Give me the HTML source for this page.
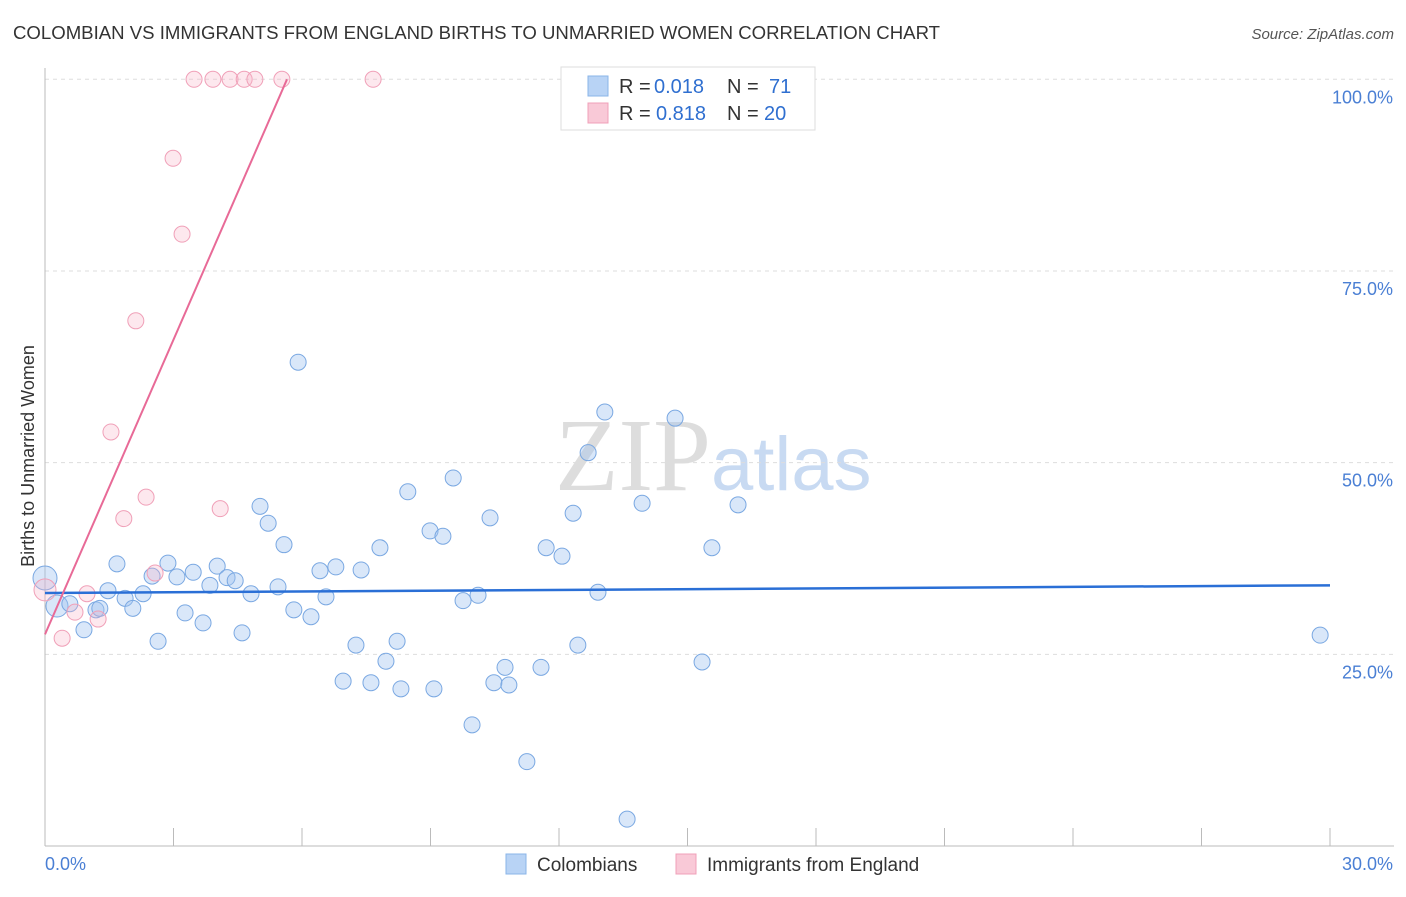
<!DOCTYPE html>
<html><head><meta charset="utf-8"><style>
body{margin:0;background:#fff;font-family:"Liberation Sans",sans-serif;}
</style></head><body>
<svg id="chart" width="1406" height="892" xmlns="http://www.w3.org/2000/svg" font-family="Liberation Sans, sans-serif">
<text x="13" y="39" font-size="18.6" fill="#333">COLOMBIAN VS IMMIGRANTS FROM ENGLAND BIRTHS TO UNMARRIED WOMEN CORRELATION CHART</text>
<text x="1394" y="39" font-size="15" fill="#555" text-anchor="end" font-style="italic">Source: ZipAtlas.com</text>
<text x="555" y="490" font-size="104" fill="#ddd" font-family="Liberation Serif, serif">ZIP<tspan fill="#c8daf2" font-family="Liberation Sans, sans-serif" font-size="76">atlas</tspan></text>
<text transform="translate(34,456) rotate(-90)" font-size="18" fill="#333" text-anchor="middle">Births to Unmarried Women</text>
<g id="grid"></g><g id="axes"></g><g id="marks"></g><g id="lines"></g>
<g>
<rect x="561" y="67" width="254" height="63" fill="#fff" stroke="#ddd"/>
<rect x="588" y="76" width="20" height="20" fill="#b8d3f5" stroke="#8ab4e8"/>
<text x="619" y="93" font-size="20" fill="#333">R =</text>
<text x="654" y="93" font-size="20" fill="#2f6fd0">0.018</text>
<text x="727" y="93" font-size="20" fill="#333">N =</text>
<text x="769" y="93" font-size="20" fill="#2f6fd0">71</text>
<rect x="588" y="103" width="20" height="20" fill="#f9c9d7" stroke="#f0a0b8"/>
<text x="619" y="120" font-size="20" fill="#333">R =</text>
<text x="656" y="120" font-size="20" fill="#2f6fd0">0.818</text>
<text x="727" y="120" font-size="20" fill="#333">N =</text>
<text x="764" y="120" font-size="20" fill="#2f6fd0">20</text>
</g>
<g>
<rect x="506" y="854" width="20" height="20" fill="#b8d3f5" stroke="#8ab4e8"/>
<text x="537" y="871" font-size="19" fill="#333">Colombians</text>
<rect x="676" y="854" width="20" height="20" fill="#f9c9d7" stroke="#f0a0b8"/>
<text x="707" y="871" font-size="19" fill="#333">Immigrants from England</text>
</g>
</svg>
<script>
const blueX=[0,0.28,0.58,0.91,1.19,1.28,1.47,1.68,1.87,2.05,2.29,2.50,2.64,2.87,3.08,3.27,3.46,3.69,3.85,4.02,4.25,4.44,4.60,4.81,5.02,5.21,5.44,5.58,5.81,5.91,6.21,6.42,6.56,6.79,6.96,7.26,7.38,7.61,7.82,7.96,8.22,8.31,8.47,8.99,9.08,9.29,9.53,9.76,9.97,10.11,10.39,10.48,10.74,10.83,11.25,11.58,11.70,12.07,12.33,12.44,12.68,12.91,13.07,13.59,13.94,14.71,15.34,15.57,16.18,29.77];
const blueY=[34.95,31.3,31.6,28.2,30.8,31.0,33.3,36.8,32.3,31.0,32.9,35.2,26.7,36.9,35.1,30.4,35.7,29.1,34.0,36.5,35.0,34.6,27.8,32.9,44.3,42.1,33.8,39.3,30.8,63.1,29.9,35.9,32.5,36.4,21.5,26.2,36.0,21.3,38.9,24.1,26.7,20.5,46.2,41.1,20.5,40.4,48.0,32.0,15.8,32.7,42.8,21.3,23.3,21.0,11.0,23.3,38.9,37.8,43.4,26.2,51.3,33.1,56.6,3.5,44.7,55.8,24.0,38.9,44.5,27.5];
const blueR=[12,11,8,8,8,8,8,8,8,8,8,8,8,8,8,8,8,8,8,8,8,8,8,8,8,8,8,8,8,8,8,8,8,8,8,8,8,8,8,8,8,8,8,8,8,8,8,8,8,8,8,8,8,8,8,8,8,8,8,8,8,8,8,8,8,8,8,8,8,8];
const pinkX=[0,0.40,0.70,0.98,1.24,1.54,1.84,2.12,2.36,2.57,2.99,3.20,3.48,3.92,4.32,4.65,4.90,5.53,7.66,4.09];
const pinkY=[33.4,27.1,30.5,32.9,29.6,54.0,42.7,68.5,45.5,35.6,89.7,79.8,100,100,100,100,100,100,100,44.0];
const trendBlue=[33.0,34.0]; // y at x=0 and x=30
const trendPink=[27.6,100,5.65]; // y at 0, y end, x end
const yTicks=[25,50,75,100];
const yTickLabels=["25.0%","50.0%","75.0%","100.0%"];
const xTicks=[0,3,6,9,12,15,18,21,24,27,30];

const NS="http://www.w3.org/2000/svg";
const X=v=>45+v*(1285/30);
const Y=v=>846-v*7.667;
function mk(t,a,p){const e=document.createElementNS(NS,t);for(const k in a)e.setAttribute(k,a[k]);p.appendChild(e);return e;}
const grid=document.getElementById('grid'),axes=document.getElementById('axes'),marks=document.getElementById('marks'),lines=document.getElementById('lines');
yTicks.forEach((v,i)=>{
 const g=mk('line',{x1:45,x2:1394,y1:Y(v),y2:Y(v),stroke:'#ddd','stroke-dasharray':'4,4'},grid);
 
 
 const t=mk('text',{x:1393,y:Y(v)+24,'font-size':18,fill:'#4a7fd4','text-anchor':'end'},axes);
 t.textContent=yTickLabels[i];
 
 
});
const ax=mk('line',{x1:45,x2:45,y1:68,y2:846,stroke:'#bbb'},axes);


const bx=mk('line',{x1:45,x2:1394,y1:846,y2:846,stroke:'#bbb'},axes);


xTicks.forEach(v=>{
 const l=mk('line',{x1:X(v),x2:X(v),y1:828,y2:846,stroke:'#bbb'},axes);
 
 
});
const x0=mk('text',{x:45,y:870,'font-size':18,fill:'#4a7fd4'},axes);x0.textContent='0.0%';


const x1=mk('text',{x:1393,y:870,'font-size':18,fill:'#4a7fd4','text-anchor':'end'},axes);x1.textContent='30.0%';


blueX.forEach((v,i)=>{
 const c=mk('circle',{cx:X(v),cy:Y(blueY[i]),r:blueR[i]||8,fill:'rgba(160,196,240,0.4)',stroke:'#7aa8e2','stroke-width':1},marks);
 
 
});
pinkX.forEach((v,i)=>{
 const c=mk('circle',{cx:X(v),cy:Y(pinkY[i]),r:i==0?11:8,fill:'rgba(248,180,200,0.3)',stroke:'#f0a0b8','stroke-width':1},marks);
 
 
});
const lb=mk('line',{x1:X(0),y1:Y(trendBlue[0]),x2:X(30),y2:Y(trendBlue[1]),stroke:'#2a6fd6','stroke-width':2.5},lines);


const lp=mk('line',{x1:X(0),y1:Y(trendPink[0]),x2:X(trendPink[2]),y2:Y(trendPink[1]),stroke:'#e86a97','stroke-width':2},lines);


</script>
</body></html>
